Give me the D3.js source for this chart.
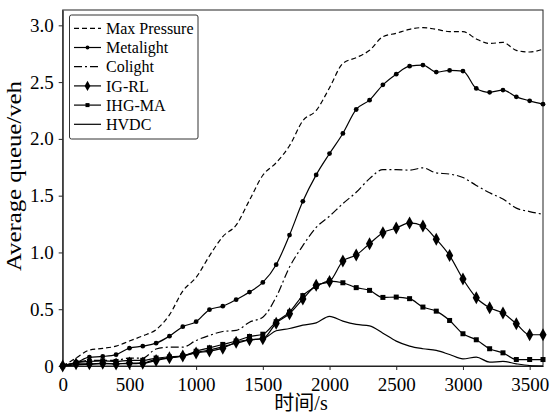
<!DOCTYPE html>
<html><head><meta charset="utf-8">
<script src="https://cdn.jsdelivr.net/npm/d3@7"></script>
<style>body{margin:0;background:#fff;} svg{display:block;}</style>
</head><body>
<svg id="c" width="550" height="417"></svg>
<script>
const times = d3.range(0, 3601, 100);
const maxPressure = [0,0.07,0.14,0.155,0.175,0.22,0.265,0.32,0.45,0.66,0.78,0.97,1.14,1.24,1.46,1.68,1.79,1.94,2.16,2.25,2.45,2.665,2.715,2.78,2.9,2.93,2.965,2.98,2.965,2.945,2.945,2.88,2.84,2.85,2.78,2.765,2.79];
const metalight = [0,0.03,0.078,0.084,0.10,0.157,0.175,0.201,0.263,0.346,0.39,0.496,0.527,0.584,0.651,0.736,0.892,1.153,1.45,1.683,1.871,2.048,2.259,2.341,2.476,2.57,2.64,2.65,2.588,2.603,2.597,2.444,2.41,2.43,2.37,2.335,2.306];
const colight = [0,0.03,0.05,0.05,0.05,0.07,0.07,0.15,0.166,0.166,0.225,0.269,0.304,0.313,0.386,0.43,0.607,0.871,1.06,1.22,1.32,1.43,1.53,1.65,1.73,1.73,1.725,1.745,1.70,1.69,1.66,1.59,1.525,1.47,1.39,1.36,1.335];
const igrl = [0,0.02,0.02,0.024,0.018,0.026,0.025,0.049,0.072,0.087,0.115,0.131,0.157,0.21,0.231,0.24,0.377,0.46,0.59,0.71,0.745,0.924,0.977,1.077,1.174,1.215,1.26,1.233,1.116,0.972,0.766,0.601,0.513,0.466,0.372,0.275,0.275];
const ihgma = [0,0.03,0.04,0.045,0.04,0.05,0.05,0.07,0.08,0.09,0.13,0.16,0.19,0.22,0.26,0.28,0.39,0.475,0.62,0.70,0.748,0.733,0.69,0.666,0.604,0.607,0.593,0.519,0.483,0.401,0.284,0.231,0.152,0.116,0.057,0.057,0.057];
const hvdc = [0,0.01,0.015,0.02,0.02,0.02,0.025,0.06,0.07,0.09,0.12,0.14,0.17,0.2,0.23,0.24,0.31,0.33,0.36,0.38,0.437,0.395,0.366,0.354,0.289,0.219,0.175,0.152,0.137,0.101,0.063,0.078,0.034,0.04,0.019,0.004,0];
const seriesNames = ["Max Pressure","Metalight","Colight","IG-RL","IHG-MA","HVDC"];
const xTicks = [0,500,1000,1500,2000,2500,3000,3500];
const yTicks = [0,0.5,1.0,1.5,2.0,2.5,3.0];

const styles = {
  "Max Pressure": {dash:"5,3", marker:null},
  "Metalight": {dash:null, marker:"circle"},
  "Colight": {dash:"8,3,2,3", marker:null},
  "IG-RL": {dash:null, marker:"diamond"},
  "IHG-MA": {dash:null, marker:"square"},
  "HVDC": {dash:null, marker:null}
};
const values = [maxPressure, metalight, colight, igrl, ihgma, hvdc];

const svg = d3.select("#c");
const L = 62.7, R = 543, T = 10, B = 366;
const x = d3.scaleLinear().domain([0,3600]).range([L,R]);
const y = d3.scaleLinear().domain([0,3.135]).range([B,T]);
const font = '"Liberation Serif","Noto Sans CJK SC",serif';

svg.append("rect").attr("x",L).attr("y",T).attr("width",R-L).attr("height",B-T)
  .attr("fill","none").attr("stroke","#222").attr("stroke-width",1);

const xa = svg.append("g").attr("transform",`translate(0,${B})`)
  .call(d3.axisBottom(x).tickValues(xTicks).tickSize(4).tickSizeOuter(0).tickFormat(d3.format("d")));
const ya = svg.append("g").attr("transform",`translate(${L},0)`)
  .call(d3.axisLeft(y).tickValues(yTicks).tickSize(4).tickSizeOuter(0).tickFormat(d=> d===0?"0":d3.format(".1f")(d)));
[xa,ya].forEach(a=>{
  a.attr("font-family",null).attr("font-size",null);
  a.select(".domain").attr("stroke","#222");
  a.selectAll(".tick line").attr("stroke","#222");
  a.selectAll("text").style("font-family",font).style("font-size","19px").attr("fill","#000");
});
xa.selectAll("text").attr("dy","0.95em");
ya.selectAll("text").attr("dx","-0.1em");

const gPlot = svg.append("g");
const line = d3.line().x((d,i)=>x(times[i])).y(d=>y(d)).curve(d3.curveMonotoneX);

function drawMarker(g, type, cx, cy, scale){
  scale = scale||1;
  if(type==="circle"){
    g.append("circle").attr("cx",cx).attr("cy",cy).attr("r",2.4*scale).attr("fill","#000");
  } else if(type==="diamond"){
    const w=3.6*scale,h=6.5*scale;
    g.append("path").attr("d",`M${cx},${cy-h}L${cx+w},${cy}L${cx},${cy+h}L${cx-w},${cy}Z`).attr("fill","#000");
  } else if(type==="square"){
    const s=2.5*scale;
    g.append("rect").attr("x",cx-s).attr("y",cy-s).attr("width",2*s).attr("height",2*s).attr("fill","#000");
  }
}

seriesNames.forEach((name,k)=>{
  const st = styles[name];
  const p = gPlot.append("path").datum(values[k]).attr("d",line)
    .attr("fill","none").attr("stroke","#000").attr("stroke-width",1.2);
  if(st.dash) p.attr("stroke-dasharray",st.dash);
  if(st.marker){
    const mg = gPlot.append("g");
    values[k].forEach((v,i)=>drawMarker(mg, st.marker, x(times[i]), y(v)));
  }
});

const lg = svg.append("g");
lg.append("rect").attr("x",69.5).attr("y",15).attr("width",128.5).attr("height",124).attr("rx",2)
  .attr("fill","#fff").attr("stroke","#333").attr("stroke-width",1);
seriesNames.forEach((name,k)=>{
  const st = styles[name];
  const cy = 28.3 + k*19.2;
  const l = lg.append("line").attr("x1",74).attr("x2",101).attr("y1",cy).attr("y2",cy)
    .attr("stroke","#000").attr("stroke-width",1.2);
  if(st.dash) l.attr("stroke-dasharray",st.dash);
  if(st.marker) drawMarker(lg, st.marker, 87.5, cy, 0.8);
  lg.append("text").attr("x",106).attr("y",cy).attr("dy","0.35em")
    .style("font-family",font).style("font-size","16px").text(name);
});

svg.append("text").attr("transform",`translate(21,176) rotate(-90)`).attr("text-anchor","middle")
  .attr("textLength",190).attr("lengthAdjust","spacingAndGlyphs")
  .style("font-family",font).style("font-size","20px").text("Average queue/veh");
svg.append("text").attr("x",301).attr("y",410).attr("text-anchor","middle")
  .style("font-family",font).style("font-size","20px").text("时间/s");
</script>
</body></html>
